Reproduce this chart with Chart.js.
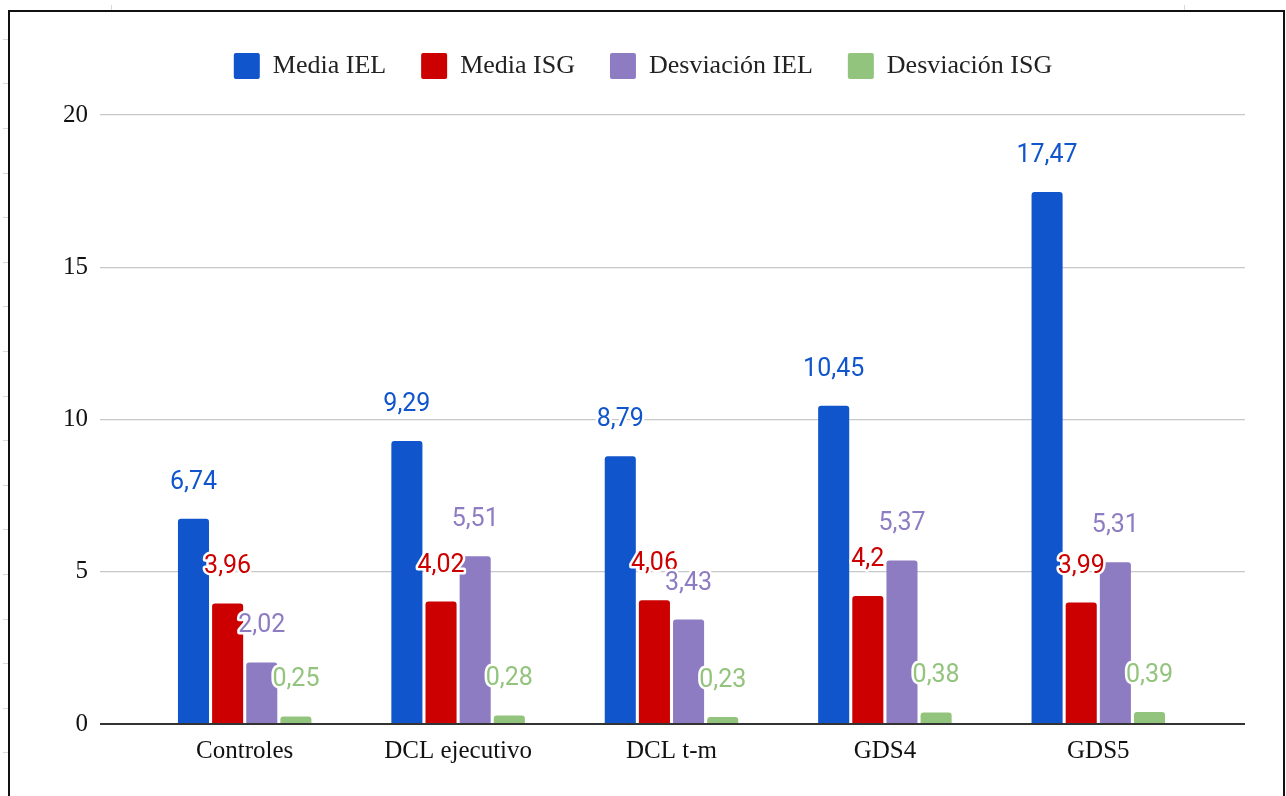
<!DOCTYPE html>
<html>
<head>
<meta charset="utf-8">
<script src="https://cdn.jsdelivr.net/npm/chart.js@4.4.1/dist/chart.umd.min.js"></script>
<style>
  html, body { margin: 0; padding: 0; background: #fff; }
  #wrap { position: relative; width: 1286px; height: 796px; overflow: hidden; }
  #chart { position: absolute; left: 0; top: 0; }
  #frame {
    position: absolute; left: 8px; top: 10px; width: 1273px; height: 800px;
    border: 2px solid #111; pointer-events: none;
  }
  .mark { position: absolute; left: 3px; width: 5px; height: 1px; background: #d8d8d8; }
  .tmark { position: absolute; top: 5px; width: 1px; height: 5px; background: #d8d8d8; }
</style>
</head>
<body>
<div id="wrap">
  <canvas id="chart" width="1286" height="796"></canvas>
  <div id="frame"></div>
</div>
<script>
const categories = ['Controles', 'DCL ejecutivo', 'DCL t-m', 'GDS4', 'GDS5'];
const mediaIEL = [6.74, 9.29, 8.79, 10.45, 17.47];
const mediaISG = [3.96, 4.02, 4.06, 4.2, 3.99];
const desviacionIEL = [2.02, 5.51, 3.43, 5.37, 5.31];
const desviacionISG = [0.25, 0.28, 0.23, 0.38, 0.39];
const seriesNames = ['Media IEL', 'Media ISG', 'Desviación IEL', 'Desviación ISG'];
const seriesColors = ['#1155cc', '#cc0000', '#8e7cc3', '#93c47d'];
const yTicks = [0, 5, 10, 15, 20];

// little sheet cell marks outside the frame
const wrap = document.getElementById('wrap');
for (let y = 38.7; y < 796; y += 44.6) {
  const m = document.createElement('div');
  m.className = 'mark';
  m.style.top = Math.round(y) + 'px';
  wrap.appendChild(m);
}
[111, 1184].forEach(x => {
  const m = document.createElement('div');
  m.className = 'tmark';
  m.style.left = x + 'px';
  wrap.appendChild(m);
});

const fmt = v => String(v).replace('.', ',');

const valueLabels = {
  id: 'valueLabels',
  afterDatasetsDraw(chart) {
    const ctx = chart.ctx;
    ctx.save();
    ctx.font = '25px Roboto';
    ctx.textAlign = 'center';
    ctx.textBaseline = 'alphabetic';
    ctx.lineJoin = 'round';
    chart.data.datasets.forEach((ds, i) => {
      chart.getDatasetMeta(i).data.forEach((bar, j) => {
        const txt = fmt(ds.data[j]);
        const y = bar.y - 30;
        ctx.lineWidth = 5;
        ctx.strokeStyle = '#fff';
        ctx.strokeText(txt, bar.x, y);
        ctx.fillStyle = seriesColors[i];
        ctx.fillText(txt, bar.x, y);
      });
    });
    ctx.restore();
  }
};

const seriesData = [mediaIEL, mediaISG, desviacionIEL, desviacionISG];

const gridColor = c => c.tick && c.tick.value === 0 ? '#333333' : '#c8c8c8';
const gridWidth = c => c.tick && c.tick.value === 0 ? 2 : 1.3;

new Chart(document.getElementById('chart'), {
  type: 'bar',
  data: {
    labels: categories,
    datasets: seriesNames.map((name, i) => ({
      label: name,
      data: seriesData[i],
      backgroundColor: seriesColors[i],
      borderWidth: 0,
      borderRadius: { topLeft: 3, topRight: 3 },
      borderSkipped: 'bottom',
      categoryPercentage: 0.64,
      barPercentage: 0.91
    }))
  },
  options: {
    responsive: false,
    animation: false,
    layout: { padding: { left: 0, right: 0, top: 18, bottom: 18 } },
    plugins: {
      tooltip: { enabled: false },
      legend: {
        position: 'top',
        labels: {
          color: '#222',
          font: { family: 'Liberation Serif', size: 26 },
          boxWidth: 26,
          boxHeight: 26,
          useBorderRadius: true,
          borderRadius: 2,
          padding: 35
        }
      }
    },
    scales: {
      x: {
        grid: { display: false, drawTicks: false },
        border: { display: false },
        ticks: {
          color: '#111',
          font: { family: 'Liberation Serif', size: 25 },
          padding: 12
        }
      },
      // spacer between legend and plot
      xTop: {
        type: 'category',
        position: 'top',
        grid: { color: 'rgba(0,0,0,0)', drawOnChartArea: false, tickLength: 26 },
        border: { display: false },
        ticks: { display: false }
      },
      y: {
        min: 0,
        max: 20,
        afterBuildTicks: s => { s.ticks = yTicks.map(v => ({ value: v })); },
        afterFit: s => { s.width = 138; },
        border: { display: false },
        grid: { color: gridColor, lineWidth: gridWidth, tickLength: 38 },
        ticks: {
          color: '#111',
          font: { family: 'Liberation Serif', size: 25 },
          padding: 12
        }
      },
      y2: {
        position: 'right',
        min: 0,
        max: 20,
        afterBuildTicks: s => { s.ticks = yTicks.map(v => ({ value: v })); },
        afterFit: s => { s.width = 81; },
        border: { display: false },
        grid: { color: gridColor, lineWidth: gridWidth, tickLength: 40, drawOnChartArea: false },
        ticks: { display: false }
      }
    }
  },
  plugins: [valueLabels]
});
</script>
</body>
</html>
